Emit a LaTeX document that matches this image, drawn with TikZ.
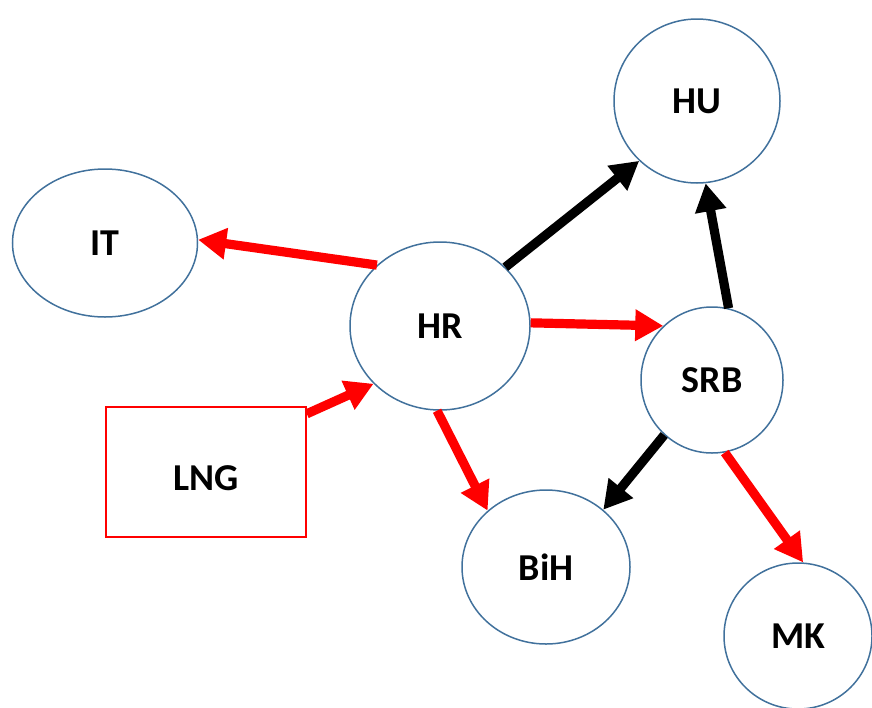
\documentclass[tikz,border=0pt]{standalone}
\usepackage{fontspec}
\setmainfont{Carlito}
\usetikzlibrary{shapes.geometric,arrows.meta}
\definecolor{ovalblue}{RGB}{65,113,156}
\tikzset{
  country/.style={ellipse, draw=ovalblue, line width=0.75pt, inner sep=0pt, font=\fontsize{19}{23}\selectfont\bfseries},
  supply/.style={rectangle, draw=red, line width=0.75pt, inner sep=0pt, font=\fontsize{19}{23}\selectfont\bfseries},
  flow/.style={line width=4.6pt, -{Triangle[length=14pt,width=15pt]}}
}
\begin{document}
\begin{tikzpicture}[x=0.5pt, y=-0.5pt]
			\useasboundingbox (0,0) rectangle (872,707);
			% COUNTRIES
			\node[country, minimum width=83pt, minimum height=82pt] (hu) at (697,101) {HU}; % top
			\node[country, minimum width=92.5pt, minimum height=74pt] (it) at (105,243) {IT};
			\node[country, minimum width=90pt, minimum height=84pt] (hr) at (440,326) {HR}; % hub
			\node[country, minimum width=71pt, minimum height=73pt] (srb) at (712,380) {SRB};
			\node[country, minimum width=84pt, minimum height=77pt] (bih) at (546,567) {BiH};
			\node[country, minimum width=74pt, minimum height=73pt] (mk) at (798,636) {MK};
			\node[supply, minimum width=100pt, minimum height=65pt, text height=18pt, text depth=0pt] (lng) at (206,472) {LNG}; % terminal
			
			% RED FLOWS
			\draw[flow, red] (hr.136) -- (it.2);
			\draw[flow, red] (hr.2) -- (srb.132);
			\draw[flow, red] (lng.30) -- (hr.221);
			\draw[flow, red] (hr.268) -- (bih.136);
			\draw[flow, red] (srb.280) -- (mk.86);
			
			% BLACK FLOWS
			\draw[flow, black] (hr.42) -- (hu.226);
			\draw[flow, black] (srb.77) -- (hu.276);
			\draw[flow, black] (srb.229) -- (bih.45);
		\end{tikzpicture}
\end{document}
